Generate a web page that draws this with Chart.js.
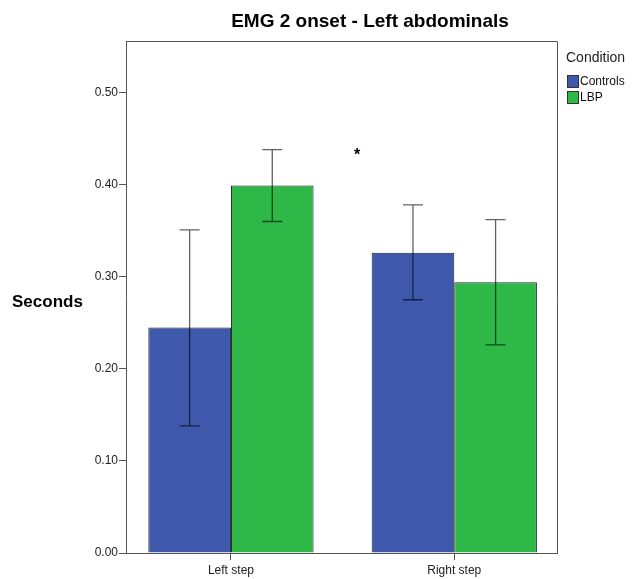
<!DOCTYPE html>
<html>
<head>
<meta charset="utf-8">
<script src="https://cdn.jsdelivr.net/npm/chart.js@4/dist/chart.umd.min.js"></script>
<style>
  html, body { margin: 0; padding: 0; background: #fff; }
  #wrap { width: 635px; height: 579px; }
</style>
</head>
<body>
<div id="wrap"><canvas id="c" width="635" height="579"></canvas></div>
<script>
const chartTitle = 'EMG 2 onset - Left abdominals';
const yTitle = 'Seconds';
const legendTitle = 'Condition';
const categories = ['Left step', 'Right step'];
const seriesNames = ['Controls', 'LBP'];
const controls = [0.245, 0.326];
const lbp = [0.399, 0.294];
const controlsLow = [0.138, 0.275];
const controlsHigh = [0.351, 0.378];
const lbpLow = [0.360, 0.226];
const lbpHigh = [0.438, 0.362];
const yTicks = [0.0, 0.1, 0.2, 0.3, 0.4, 0.5];
const starLabel = '*';
const starPos = [0.565, 0.435];

const FONT = '"Liberation Sans", Arial, sans-serif';
const AXIS = '#555555';

const errPlugin = {
  id: 'errbars',
  afterDatasetsDraw(chart) {
    const ctx = chart.ctx;
    const y = chart.scales.y;
    const lows = [controlsLow, lbpLow];
    const highs = [controlsHigh, lbpHigh];
    ctx.save();
    ctx.strokeStyle = 'rgba(0,0,0,0.62)';
    ctx.lineWidth = 1.3;
    chart.data.datasets.forEach((ds, di) => {
      const meta = chart.getDatasetMeta(di);
      meta.data.forEach((bar, i) => {
        const x = bar.x;
        const yl = y.getPixelForValue(lows[di][i]);
        const yh = y.getPixelForValue(highs[di][i]);
        const cap = 10;
        ctx.beginPath();
        ctx.moveTo(x, yl); ctx.lineTo(x, yh);
        ctx.moveTo(x - cap, yl); ctx.lineTo(x + cap, yl);
        ctx.moveTo(x - cap, yh); ctx.lineTo(x + cap, yh);
        ctx.stroke();
      });
    });
    ctx.restore();
  }
};

const decoPlugin = {
  id: 'deco',
  afterDraw(chart) {
    const ctx = chart.ctx;
    const a = chart.chartArea;
    ctx.save();
    ctx.strokeStyle = AXIS;
    ctx.lineWidth = 1;
    ctx.beginPath();
    ctx.moveTo(Math.round(a.left) + 0.5, Math.round(a.top) + 0.5);
    ctx.lineTo(Math.round(a.right) + 0.5, Math.round(a.top) + 0.5);
    ctx.lineTo(Math.round(a.right) + 0.5, Math.round(a.bottom) + 0.5);
    ctx.stroke();
    ctx.fillStyle = '#000';
    ctx.font = 'bold 19px ' + FONT;
    ctx.textAlign = 'center';
    ctx.textBaseline = 'middle';
    ctx.fillText(chartTitle, 370, 22);
    ctx.font = 'bold 17px ' + FONT;
    ctx.textAlign = 'left';
    ctx.fillText(yTitle, 12, 302);
    ctx.font = 'bold 16px ' + FONT;
    ctx.textAlign = 'center';
    ctx.fillText(starLabel, chart.scales.x.getPixelForValue(starPos[0]), chart.scales.y.getPixelForValue(starPos[1]) + 3);
    ctx.font = '14px ' + FONT;
    ctx.textAlign = 'left';
    ctx.fillStyle = '#222';
    ctx.fillText(legendTitle, 566, 58);
    ctx.font = '12px ' + FONT;
    chart.data.datasets.forEach((ds, i) => {
      const yy = 75 + i * 16;
      ctx.fillStyle = ds.backgroundColor;
      ctx.fillRect(567, yy, 11, 12);
      ctx.strokeStyle = '#333';
      ctx.lineWidth = 1;
      ctx.strokeRect(567.5, yy + 0.5, 11, 12);
      ctx.fillStyle = '#111';
      ctx.fillText(ds.label, 580, yy + 7);
    });
    ctx.restore();
  }
};

new Chart(document.getElementById('c'), {
  type: 'bar',
  data: {
    datasets: [
      {
        label: seriesNames[0],
        data: controls.map((v, i) => ({ x: i, y: v })),
        backgroundColor: '#3E58AC',
        borderColor: '#222222',
        borderWidth: 1,
        categoryPercentage: 0.74,
        barPercentage: 1.0
      },
      {
        label: seriesNames[1],
        data: lbp.map((v, i) => ({ x: i, y: v })),
        backgroundColor: '#2EB848',
        borderColor: '#222222',
        borderWidth: 1,
        categoryPercentage: 0.74,
        barPercentage: 1.0
      }
    ]
  },
  options: {
    responsive: false,
    animation: false,
    devicePixelRatio: 1,
    layout: { padding: { top: 41, right: 78, left: 0, bottom: 0 } },
    plugins: { legend: { display: false }, title: { display: false }, tooltip: { enabled: false } },
    scales: {
      x: {
        type: 'linear',
        min: -0.47,
        max: 1.46,
        offset: false,
        afterBuildTicks: (s) => { s.ticks = categories.map((c, i) => ({ value: i })); },
        afterFit: (s) => { s.height = 26; },
        ticks: {
          callback: (v) => categories[v],
          font: { family: FONT, size: 12 },
          color: '#222',
          padding: 3,
          maxRotation: 0,
          autoSkip: false
        },
        grid: { display: true, offset: false, drawOnChartArea: false, drawTicks: true, tickLength: 7, color: AXIS },
        border: { display: true, color: AXIS, width: 1 }
      },
      y: {
        min: 0,
        max: 0.556,
        afterBuildTicks: (s) => { s.ticks = yTicks.map(v => ({ value: v })); },
        afterFit: (s) => { s.width = 126; },
        ticks: {
          callback: (v) => Number(v).toFixed(2),
          font: { family: FONT, size: 12 },
          color: '#222',
          padding: 1
        },
        grid: { display: true, drawOnChartArea: false, drawTicks: true, tickLength: 7, color: AXIS },
        border: { display: true, color: AXIS, width: 1 }
      }
    }
  },
  plugins: [errPlugin, decoPlugin]
});
</script>
</body>
</html>
